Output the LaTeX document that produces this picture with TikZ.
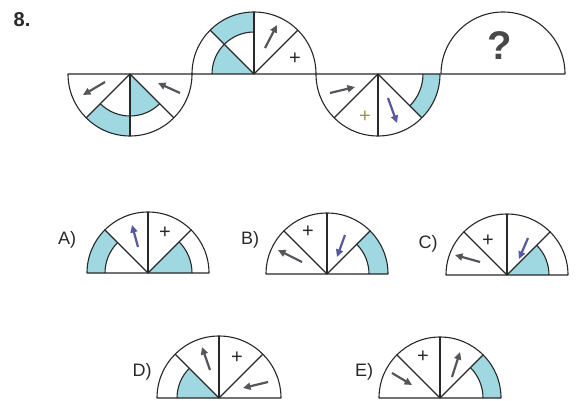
\documentclass[tikz,border=0pt]{standalone}
\usepackage{fontspec}
\setmainfont{Liberation Sans}
\usetikzlibrary{arrows.meta}
\definecolor{cyanfill}{RGB}{160,216,226}
\definecolor{linec}{RGB}{40,40,40}
\definecolor{arrg}{RGB}{85,85,92}
\definecolor{arrp}{RGB}{88,88,158}
\definecolor{plusolive}{RGB}{150,150,70}
\tikzset{
  outline/.style={draw=linec, line width=1.1pt, line join=round},
  band/.style={fill=cyanfill},
  arr/.style={-{Triangle[length=7.5pt,width=7pt]}, line width=2.2pt, draw=arrg},
  parr/.style={arr, draw=arrp},
  plus/.style={font=\fontsize{20}{20}\selectfont, text=linec, inner sep=0pt},
  lab/.style={font=\fontsize{18}{18}\selectfont, text=linec, inner sep=0pt},
}
\newcommand\annul[4]{\fill[band] (#1:#3) arc[start angle=#1,end angle=#2,radius=#3] -- (#2:#4) arc[start angle=#2,end angle=#1,radius=#4] -- cycle;}
\newcommand\wedgef[3]{\fill[band] (0,0) -- (#1:#3) arc[start angle=#1,end angle=#2,radius=#3] -- cycle;}
\newcommand\innerarc[3]{\draw[outline] (#1:#3) arc[start angle=#1,end angle=#2,radius=#3];}
\newcommand\lowsemi[1]{\draw[outline] (-#1,0) arc[start angle=180,end angle=360,radius=#1] -- cycle;
  \foreach \a in {225,270,315}{\draw[outline] (0,0) -- (\a:#1);}}
\newcommand\highsemi[1]{\draw[outline] (-#1,0) arc[start angle=180,end angle=0,radius=#1] -- cycle;
  \foreach \a in {45,90,135}{\draw[outline] (0,0) -- (\a:#1);}}
\begin{document}
\begin{tikzpicture}[x=1pt,y=-1pt]
\useasboundingbox (0,0) rectangle (578,401);
\fill[white] (0,0) rectangle (578,401);

\node[font=\bfseries\fontsize{20}{20}\selectfont, text=linec, inner sep=0pt] (num) at (22,20) {8.};

% ---- top row ----
\begin{scope}[shift={(130,74)}, yscale=-1]
  \annul{225}{270}{42}{62}
  \wedgef{270}{315}{42}
  \innerarc{225}{315}{42}
  \lowsemi{62}
  \coordinate (t1a) at (-25,-8); \coordinate (h1a) at (-47,-21);
  \coordinate (t1b) at (50,-19); \coordinate (h1b) at (28,-9);
  \draw[arr] (t1a) -- (h1a);
  \draw[arr] (t1b) -- (h1b);
\end{scope}

\begin{scope}[shift={(254,74)}, yscale=-1]
  \wedgef{135}{180}{42}
  \annul{90}{135}{42}{62}
  \innerarc{90}{180}{42}
  \highsemi{62}
  \coordinate (t2a) at (11,26); \coordinate (h2a) at (23,49);
  \draw[arr] (t2a) -- (h2a);
  \node[plus] (p2) at (41,15) {+};
\end{scope}

\begin{scope}[shift={(378,74)}, yscale=-1]
  \annul{315}{360}{45}{62}
  \innerarc{315}{360}{45}
  \lowsemi{62}
  \coordinate (t3a) at (-48,-19); \coordinate (h3a) at (-23,-13);
  \coordinate (t3b) at (10,-24); \coordinate (h3b) at (19,-49);
  \draw[arr] (t3a) -- (h3a);
  \draw[parr] (t3b) -- (h3b);
  \node[plus, text=plusolive] (p3) at (-13,-43) {+};
\end{scope}

\begin{scope}[shift={(503,74)}, yscale=-1]
  \draw[outline] (-62,0) arc[start angle=180,end angle=0,radius=62] -- cycle;
\end{scope}
\node[font=\bfseries\fontsize{40}{40}\selectfont, text=linec!85, inner sep=0pt] (q) at (500,46) {?};

% ---- options ----
% A
\node[lab] (la) at (67,240) {A)};
\begin{scope}[shift={(148,273)}, yscale=-1]
  \annul{135}{180}{43}{61}
  \wedgef{0}{45}{44}
  \innerarc{135}{180}{43}
  \innerarc{0}{45}{44}
  \highsemi{61}
  \coordinate (tA) at (-10,26); \coordinate (hA) at (-16,48);
  \draw[parr] (tA) -- (hA);
  \node[plus] (pA) at (17,40) {+};
\end{scope}

% B
\node[lab] (lb) at (250,240) {B)};
\begin{scope}[shift={(327,274)}, yscale=-1]
  \annul{0}{45}{42}{61}
  \innerarc{0}{45}{42}
  \highsemi{61}
  \coordinate (tBa) at (-25,12); \coordinate (hBa) at (-49,24);
  \coordinate (tBb) at (18,39); \coordinate (hBb) at (10,17);
  \draw[arr] (tBa) -- (hBa);
  \draw[parr] (tBb) -- (hBb);
  \node[plus] (pB) at (-19,42) {+};
\end{scope}

% C
\node[lab] (lc) at (428,244) {C)};
\begin{scope}[shift={(507,275)}, yscale=-1]
  \wedgef{0}{45}{42}
  \innerarc{0}{45}{42}
  \highsemi{61}
  \coordinate (tCa) at (-27,13); \coordinate (hCa) at (-52,20);
  \coordinate (tCb) at (21,37); \coordinate (hCb) at (12,16);
  \draw[arr] (tCa) -- (hCa);
  \draw[parr] (tCb) -- (hCb);
  \node[plus] (pC) at (-19,34) {+};
\end{scope}

% D
\node[lab] (ld) at (142,372) {D)};
\begin{scope}[shift={(219,398)}, yscale=-1]
  \wedgef{135}{180}{42}
  \innerarc{135}{180}{42}
  \highsemi{62}
  \coordinate (tDa) at (-9,28); \coordinate (hDa) at (-17,51);
  \coordinate (tDb) at (49,16); \coordinate (hDb) at (24,10);
  \draw[arr] (tDa) -- (hDa);
  \draw[arr] (tDb) -- (hDb);
  \node[plus] (pD) at (18,40) {+};
\end{scope}

% E
\node[lab] (le) at (364,372) {E)};
\begin{scope}[shift={(440,398)}, yscale=-1]
  \annul{0}{45}{43}{61}
  \innerarc{0}{45}{43}
  \highsemi{61}
  \coordinate (tEa) at (-48,25); \coordinate (hEa) at (-28,13);
  \coordinate (tEb) at (12,21); \coordinate (hEb) at (20,46);
  \draw[arr] (tEa) -- (hEa);
  \draw[arr] (tEb) -- (hEb);
  \node[plus] (pE) at (-17,41) {+};
\end{scope}
\end{tikzpicture}
\end{document}
